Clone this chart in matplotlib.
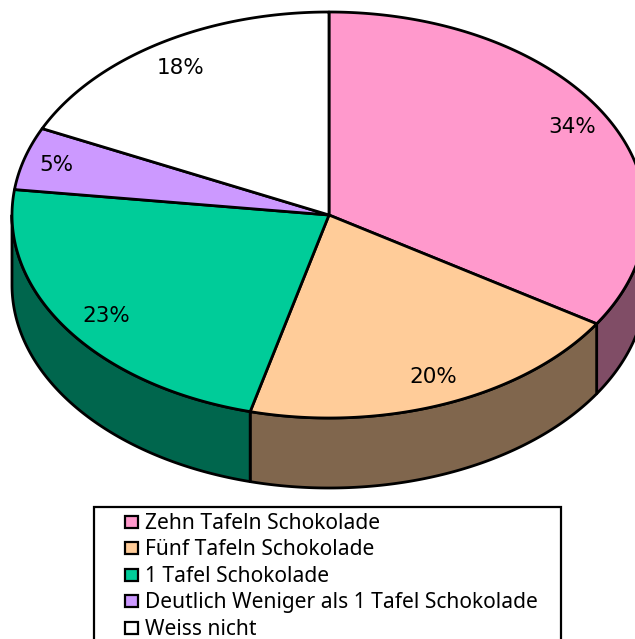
import numpy as np
import matplotlib
matplotlib.use("Agg")
import matplotlib.pyplot as plt
from matplotlib.patches import Polygon, Rectangle

labels = ["Zehn Tafeln Schokolade", "Fünf Tafeln Schokolade", "1 Tafel Schokolade",
          "Deutlich Weniger als 1 Tafel Schokolade", "Weiss nicht"]
values = [34, 20, 23, 5, 18]
colors = ["#FF99CC", "#FFCC99", "#00CC99", "#CC99FF", "#FFFFFF"]
side_colors = ["#804D66", "#80664D", "#00664D", "#664D80", "#808080"]
label_xy = [(572, 127), (433, 377), (106, 316), (56, 165), (181, 68)]

CX, CY = 329, 215
RX, RY = 317, 203
DEPTH = 70
LW = 2.0


def rim(a0, a1, dy=0):
    # angles in degrees, clockwise from 12 o'clock
    t = np.radians(np.linspace(a0, a1, 200))
    return np.column_stack([CX + RX * np.sin(t), CY - RY * np.cos(t) + dy])


fig = plt.figure(figsize=(6.35, 6.39), dpi=100)
ax = fig.add_axes([0, 0, 1, 1])
ax.set_xlim(0, 635)
ax.set_ylim(639, 0)
ax.axis("off")

edges = np.cumsum([0] + values) / sum(values) * 360

# side wall, only the front half of the rim shows
for i in range(len(values)):
    a0, a1 = max(edges[i], 90), min(edges[i + 1], 270)
    if a0 >= a1:
        continue
    pts = np.vstack([rim(a0, a1), rim(a0, a1, DEPTH)[::-1]])
    ax.add_patch(Polygon(pts, closed=True, facecolor=side_colors[i], edgecolor="black",
                         linewidth=LW, joinstyle="round"))

# top face
for i in range(len(values)):
    pts = np.vstack([[CX, CY], rim(edges[i], edges[i + 1])])
    ax.add_patch(Polygon(pts, closed=True, facecolor=colors[i], edgecolor="black",
                         linewidth=LW, joinstyle="round"))
    ax.text(label_xy[i][0], label_xy[i][1], f"{values[i]}%", ha="center", va="center",
            fontsize=15.5, family="DejaVu Sans", color="black")

# legend, runs off the bottom of the picture
ax.add_patch(Rectangle((93.5, 506.5), 467, 150, facecolor="white", edgecolor="black", linewidth=1.6))
for i in range(len(labels)):
    y = 521 + i * 26.4
    ax.add_patch(Rectangle((125, y - 5), 13, 12, facecolor=colors[i], edgecolor="black", linewidth=1.6))
    ax.text(145, y, labels[i], ha="left", va="center_baseline", fontsize=15.1, family="Noto Sans", color="black")

fig.savefig("out.png", dpi=100)
